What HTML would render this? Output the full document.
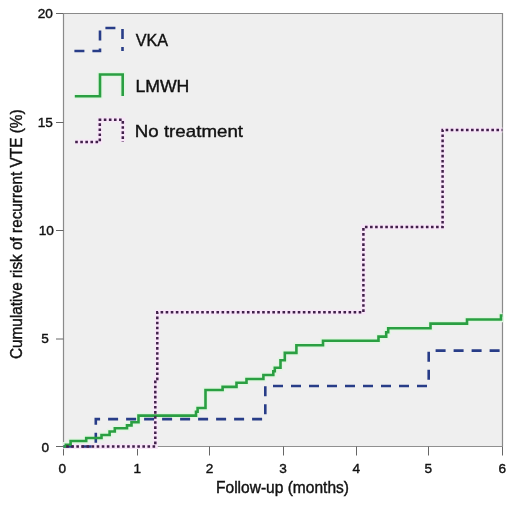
<!DOCTYPE html>
<html><head><meta charset="utf-8">
<style>
html,body{margin:0;padding:0;background:#fff;width:520px;height:508px;overflow:hidden}
svg{display:block}
text{font-family:"Liberation Sans",sans-serif;fill:#111;stroke:#111;stroke-width:0.4px}
.t{opacity:0.999;will-change:transform}
</style></head>
<body>
<svg class="t" width="520" height="508" viewBox="0 0 520 508">
<rect x="63.5" y="13.5" width="439" height="433" fill="#efefef"/>
<g stroke="#8a8a8a" stroke-width="1.2" fill="none">
<path d="M63.5,13.5 H502.5 V446.5"/>
<path d="M63.5,13.5 V446.5"/>
<path d="M63.5,446.5 H502.5" stroke="#909090"/>
</g>
<g stroke="#666" stroke-width="1" fill="none">
<path d="M56,13.5 H63.5 M56,122.5 H63.5 M56,230.5 H63.5 M56,339 H63.5 M56,446.5 H63.5"/>
<path d="M63.5,446.5 V455.5 M137.5,446.5 V455.5 M209.5,446.5 V455.5 M283.5,446.5 V455.5 M356.5,446.5 V455.5 M428.5,446.5 V455.5 M502.5,446.5 V455.5"/>
</g>
<g font-size="13.6" text-anchor="middle">
<text x="45.2" y="18.3">20</text>
<text x="45.2" y="127">15</text>
<text x="46.3" y="234.8">10</text>
<text x="45.1" y="343.3">5</text>
<text x="45.2" y="451.8">0</text>
<text x="62.3" y="472.7">0</text>
<text x="137.2" y="472.7">1</text>
<text x="209.6" y="472.7">2</text>
<text x="283.1" y="472.7">3</text>
<text x="356.4" y="472.7">4</text>
<text x="428.4" y="472.7">5</text>
<text x="502.4" y="472.7">6</text>
</g>
<text x="216" y="492.9" font-size="15.8" textLength="133" lengthAdjust="spacingAndGlyphs">Follow-up (months)</text>
<text transform="translate(21.7,359) rotate(-90)" x="0" y="0" font-size="15.8" textLength="249.5" lengthAdjust="spacingAndGlyphs">Cumulative risk of recurrent VTE (%)</text>

<!-- curves -->
<path d="M63.5,446.5 H65.8 V444.7 H70.6 V441 H86.2 V438 H101.5 V435 H109.6 V431.5 H114.8 V428.2 H127 V425.4 H131.5 V422.3 H138.5 V415.6 H196 V411.8 H197.6 V408 H205.5 V390 H222.6 V386.9 H236.5 V382.8 H246.5 V379 H263.4 V375 H273.3 V371.3 H274.8 V367.7 H280.5 V360.3 H284.8 V352.9 H296.4 V345.3 H323 V340.8 H378.5 V336.6 H386.2 V332.3 H388.2 V328.2 H430.5 V323.6 H467 V319.5 H501 V315.6 H502.5" stroke="#e2f5e2" stroke-width="5.5" fill="none"/>
<path d="M63.5,446.5 H155.3 V379 H157.3 V312.3 H363.4 V227.1 H442.6 V130 H502.5" stroke="#f8e6f8" stroke-width="5" fill="none"/>
<path d="M63.5,446.5 H95.8 V419.1 H265.3 V386 H428.7 V350.6 H502.5" stroke="#283d88" stroke-width="2.6" fill="none" stroke-dasharray="10 8"/>
<path d="M63.5,446.5 H65.8 V444.7 H70.6 V441 H86.2 V438 H101.5 V435 H109.6 V431.5 H114.8 V428.2 H127 V425.4 H131.5 V422.3 H138.5 V415.6 H196 V411.8 H197.6 V408 H205.5 V390 H222.6 V386.9 H236.5 V382.8 H246.5 V379 H263.4 V375 H273.3 V371.3 H274.8 V367.7 H280.5 V360.3 H284.8 V352.9 H296.4 V345.3 H323 V340.8 H378.5 V336.6 H386.2 V332.3 H388.2 V328.2 H430.5 V323.6 H467 V319.5 H501 V315.6 H502.5" stroke="#2a9f42" stroke-width="2.6" fill="none"/>
<path d="M63.5,446.5 H155.3 V379 H157.3 V312.3 H363.4 V227.1 H442.6 V130 H502.5" stroke="#40204a" stroke-width="2.5" fill="none" stroke-dasharray="2.6 2.48" stroke-dashoffset="2.4"/>

<!-- legend -->
<path d="M74.4,51 H100 V28 H122.5 V51" stroke="#283d88" stroke-width="2.6" fill="none" stroke-dasharray="10 8"/>
<path d="M74.8,96.3 H100 V74.5 H122.7 V96" stroke="#e2f5e2" stroke-width="5.5" fill="none"/>
<path d="M74.8,96.3 H100 V74.5 H122.7 V96" stroke="#2a9f42" stroke-width="2.6" fill="none"/>
<path d="M75.2,142 H99.8 V119.8 H122.8 V142" stroke="#f8e6f8" stroke-width="5" fill="none"/>
<path d="M75.2,142 H99.8 V119.8 H122.8 V142" stroke="#40204a" stroke-width="2.5" fill="none" stroke-dasharray="2.6 2.48"/>
<g font-size="17.4">
<text x="135.7" y="45.9" textLength="32.4" lengthAdjust="spacingAndGlyphs">VKA</text>
<text x="135.4" y="91.5" textLength="54" lengthAdjust="spacingAndGlyphs">LMWH</text>
<text x="134.8" y="136.9" textLength="108.2" lengthAdjust="spacingAndGlyphs">No treatment</text>
</g>
</svg>
</body></html>
